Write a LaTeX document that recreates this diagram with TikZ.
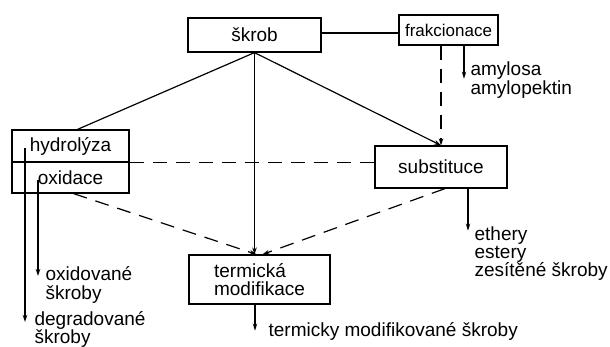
\documentclass[tikz,border=0pt]{standalone}
\usepackage{fontspec}
\setmainfont{Liberation Sans}
\usetikzlibrary{arrows.meta,calc}
\begin{document}
\begin{tikzpicture}[x=1pt,y=-1pt, line width=1.2pt,
  box/.style={draw, rectangle, inner sep=0pt, font=\fontsize{19}{19}\selectfont},
  lbl/.style={inner sep=0pt, align=left, font=\fontsize{19}{19}\selectfont},
  arr/.style={-{Stealth[length=7pt,width=4.5pt]}},
  dsh/.style={dash pattern=on 14pt off 9pt}]
\useasboundingbox[fill=white] (0,0) rectangle (610,347);
% boxes
\node[box, minimum width=133pt, minimum height=34pt] (skrob) at (254.5,35) {škrob};
\node[box, minimum width=99pt, minimum height=30pt, font=\fontsize{17}{17}\selectfont] (frak) at (448.5,30) {frakcionace};
\node[box, minimum width=117pt, minimum height=32pt] (hydro) at (70.5,146) {hydrolýza};
\node[box, minimum width=117pt, minimum height=31pt] (oxid) at (70.5,177.5) {oxidace};
\node[box, minimum width=132pt, minimum height=42pt] (subst) at (441,167) {substituce};
\node[box, minimum width=141pt, minimum height=49pt, align=left, font=\fontsize{19}{17.5}\selectfont] (term) at (259.5,279.5) {termická\\modifikace};
% connectors
\draw ($(skrob.east)+(0,-2)$) -- ($(frak.west)+(0,3)$);
\draw ([xshift=7pt]hydro.north) -- (skrob.south);
\draw[arr] (skrob.south) -- (skrob.south |- term.north);
\draw[arr] (skrob.south) -- (subst.north);
\draw[arr,dsh] (subst.north |- frak.south) -- (subst.north);
\coordinate (amyend) at ($(frak.south)+(15.5,33)$);
\draw[arr] (frak.south -| amyend) -- (amyend);
\node[lbl, anchor=north west, font=\fontsize{19}{17}\selectfont] (amyl) at (470,61) {amylosa\\amylopektin};
\draw[dsh] (hydro.south east) -- (hydro.south east -| subst.west);
\draw[arr,dsh] ([xshift=3pt]oxid.south) -- ([xshift=-3pt]term.north);
\draw[arr,dsh] ([xshift=4pt]subst.south) -- ([xshift=3pt]term.north);
% degraded
\coordinate (dtop) at (25,148);
\coordinate (dend) at (25,322);
\draw[arr] (dtop) -- (dend);
\node[lbl, anchor=north west, font=\fontsize{19}{18}\selectfont] (degr) at (34,311) {degradované\\škroby};
% oxidized
\coordinate (otop) at (38,180);
\coordinate (oend) at (38,276);
\draw[arr] (otop) -- (oend);
\node[lbl, anchor=north west] (oxl) at (45,266) {oxidované\\škroby};
% termic
\coordinate (tend) at ($(term.south)+(-4.5,26)$);
\draw[arr] (term.south -| tend) -- (tend);
\node[lbl, anchor=base west] (tml) at (268,336) {termicky modifikované škroby};
% substitution
\coordinate (send) at ($(subst.south)+(27,42)$);
\draw[arr] (subst.south -| send) -- (send);
\node[lbl, anchor=north west, font=\fontsize{19}{18}\selectfont] (sl) at (474,226) {ethery\\estery\\zesítěné škroby};
\end{tikzpicture}
\end{document}
